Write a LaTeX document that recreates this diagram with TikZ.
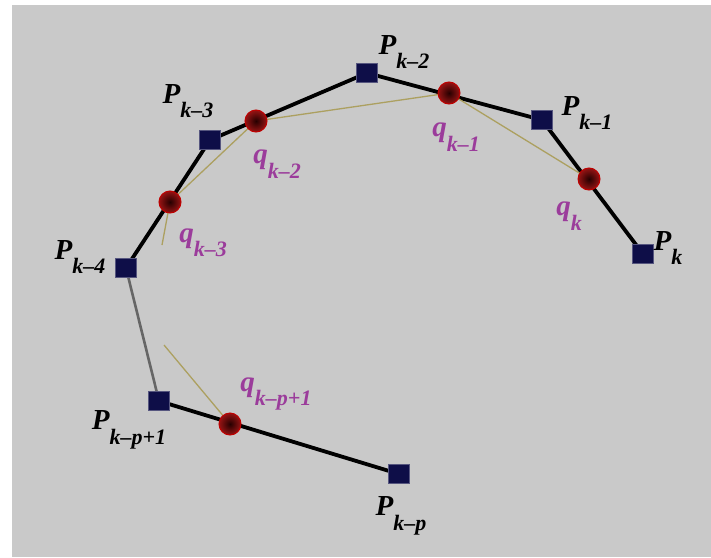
\documentclass[tikz,border=0pt]{standalone}
\usepackage{fontspec}
\setmainfont{Liberation Serif}
\pgfdeclarelayer{bg}
\pgfdeclarelayer{lines}
\pgfsetlayers{bg,lines,main}
\definecolor{bggray}{RGB}{201,201,201}
\definecolor{navy}{RGB}{14,14,72}
\definecolor{qpurple}{RGB}{155,60,155}
\definecolor{olive}{RGB}{172,160,96}
\definecolor{redring}{RGB}{150,20,20}
\newcommand{\plab}[2]{\textbf{\textit{#1}}\raisebox{-0.5em}{\fontsize{22}{22}\selectfont\textbf{\textit{#2}}}}
\begin{document}
\begin{tikzpicture}[x=1pt,y=-1pt,
  ctrl/.style={draw=navy!70, fill=navy, minimum width=21pt, minimum height=19pt, inner sep=0pt, line width=0.6pt},
  cut/.style={circle, minimum size=22pt, inner sep=0pt, inner color=black!85!red, outer color=redring, draw=red!75!black, line width=1pt},
  plabel/.style={font=\fontsize{29}{29}\selectfont, text=black, inner sep=0pt},
  qlabel/.style={font=\fontsize{29}{29}\selectfont, text=qpurple, inner sep=0pt},
  polyline/.style={line width=3.8pt, black},
  greyline/.style={line width=2.6pt, black!60},
  qline/.style={line width=1.3pt, olive}
]
\useasboundingbox (0,0) rectangle (711,557);
\begin{pgfonlayer}{bg}
  \fill[white] (0,0) rectangle (711,557);
  \fill[bggray] (12,5) rectangle (711,557);
\end{pgfonlayer}

% control points
\node[ctrl] (P2) at (367,73) {};
\node[ctrl] (P3) at (210,140) {};
\node[ctrl] (P1) at (542,120) {};
\node[ctrl] (Pk) at (643,254) {};
\node[ctrl] (P4) at (126,268) {};
\node[ctrl] (Pp1) at (159,401) {};
\node[ctrl] (Pp) at (399,474) {};

% cut points
\node[cut] (q1) at (449,93) {};
\node[cut] (q2) at (256,121) {};
\node[cut] (q3) at (170,202) {};
\node[cut] (qk) at (589,179) {};
\node[cut] (qp1) at (230,424) {};

\coordinate (s3) at (162,245);
\coordinate (sp1) at (164,345);

\begin{pgfonlayer}{lines}
  \draw[greyline] (P4.center) -- (Pp1.center);
  \draw[polyline, line join=round] (P4.center) -- (P3.center) -- (P2.center) -- (P1.center) -- (Pk.center);
  \draw[polyline] (Pp1.center) -- (Pp.center);
  \draw[qline] (qk.center) -- (q1.center) -- (q2.center) -- (q3.center) -- (s3);
  \draw[qline] (sp1) -- (qp1.center);
\end{pgfonlayer}

% labels
\node[plabel] (lP2) at (404,52) {\plab{P}{k–2}};
\node[plabel] (lP3) at (188,101) {\plab{P}{k–3}};
\node[plabel] (lP1) at (587,113) {\plab{P}{k–1}};
\node[plabel] (lPk) at (668,248) {\plab{P}{k}};
\node[plabel] (lP4) at (80,257) {\plab{P}{k–4}};
\node[plabel] (lPp1) at (129,430) {\plab{P}{k–p+1}};
\node[plabel] (lPp) at (401,516) {\plab{P}{k–p}};

\node[qlabel] (lq2) at (277,164) {\plab{q}{k–2}};
\node[qlabel] (lq1) at (456,137) {\plab{q}{k–1}};
\node[qlabel] (lqk) at (569,216) {\plab{q}{k}};
\node[qlabel] (lq3) at (203,243) {\plab{q}{k–3}};
\node[qlabel] (lqp1) at (276,394) {\plab{q}{k–p+1}};
\end{tikzpicture}
\end{document}
